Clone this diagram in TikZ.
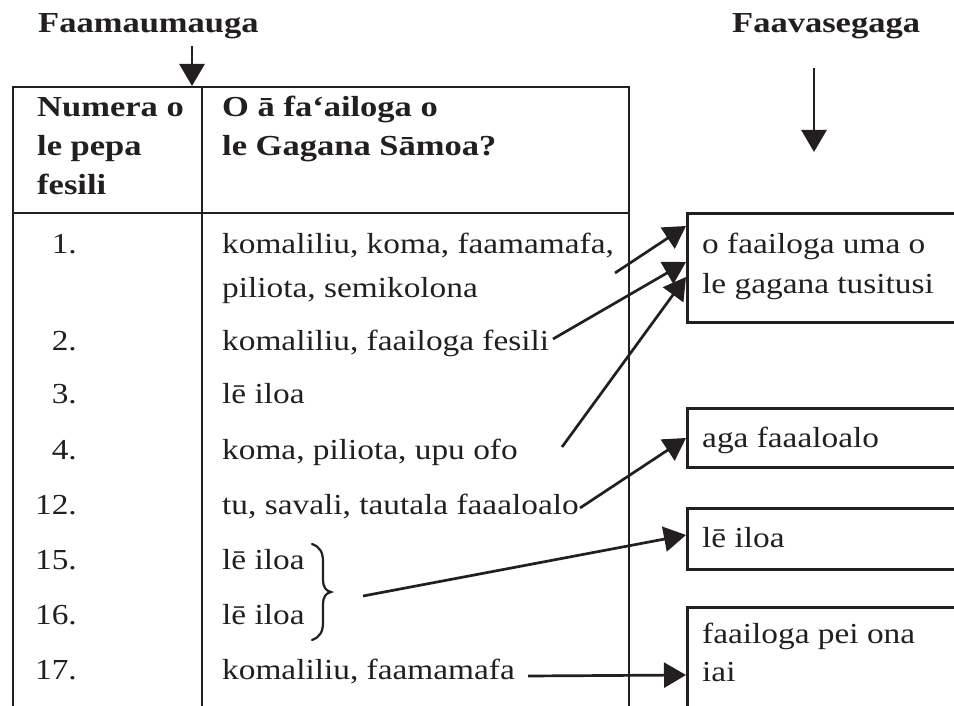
\documentclass[tikz,border=0pt]{standalone}
\usepackage{fontspec}
\setmainfont{Liberation Serif}[FakeStretch=1.15, BoldFeatures={FakeStretch=1.19}]
\usetikzlibrary{arrows.meta,calc}
\definecolor{ink}{HTML}{231F20}
\begin{document}
\begin{tikzpicture}[x=1pt,y=-1pt,
  txt/.style={font=\fontsize{29}{39}\selectfont, inner sep=0pt, text=ink},
  hd/.style={txt, font=\fontsize{29}{39}\selectfont\bfseries},
  rule/.style={line width=2.6pt, draw=ink},
  conn/.style={line width=2.7pt, draw=ink, -{Triangle[length=22pt,width=25pt]}},
  box/.style={draw=ink, line width=2.8pt, anchor=north west, inner sep=0pt, minimum width=272pt}
]
\useasboundingbox[fill=white] (0,0) rectangle (954,706);

% table
\draw[rule] (13,706) -- (13,87) -- (629,87) -- (629,706);
\draw[rule] (202,87) -- (202,706);
\draw[rule] (13,213) -- (629,213);

% titles
\node[hd, anchor=base west] (t1) at (38,33) {Faamaumauga};
\node[hd, anchor=base west] (t2) at (732,33) {Faavasegaga};
\coordinate (t1s) at (192,46);
\coordinate (t1e) at (192,86);
\coordinate (t2s) at (814,68);
\coordinate (t2e) at (814,152);
\draw[conn] (t1s) -- (t1e);
\draw[conn] (t2s) -- (t2e);

% header
\node[hd, anchor=base west] (h1a) at (37,117) {Numera o};
\node[hd, anchor=base west] (h1b) at (37,156) {le pepa};
\node[hd, anchor=base west] (h1c) at (37,195) {fesili};
\node[hd, anchor=base west] (h2a) at (222,117) {O ā fa‘ailoga o};
\node[hd, anchor=base west] (h2b) at (222,156) {le Gagana Sāmoa?};

% rows
\node[txt, anchor=base east] (n1) at (77,253) {1.};
\node[txt, anchor=base east] (n2) at (77,350) {2.};
\node[txt, anchor=base east] (n3) at (77,403) {3.};
\node[txt, anchor=base east] (n4) at (77,459) {4.};
\node[txt, anchor=base east] (n12) at (77,514) {12.};
\node[txt, anchor=base east] (n15) at (77,569) {15.};
\node[txt, anchor=base east] (n16) at (77,624) {16.};
\node[txt, anchor=base east] (n17) at (77,679) {17.};

\node[txt, anchor=base west] (r1a) at (222,253) {komaliliu, koma, faamamafa,};
\node[txt, anchor=base west] (r1b) at (222,297) {piliota, semikolona};
\node[txt, anchor=base west] (r2) at (222,350) {komaliliu, faailoga fesili};
\node[txt, anchor=base west] (r3) at (222,403) {lē iloa};
\node[txt, anchor=base west] (r4) at (222,459) {koma, piliota, upu ofo};
\node[txt, anchor=base west] (r12) at (222,514) {tu, savali, tautala faaaloalo};
\node[txt, anchor=base west] (r15) at (222,569) {lē iloa};
\node[txt, anchor=base west] (r16) at (222,624) {lē iloa};
\node[txt, anchor=base west] (r17) at (222,679) {komaliliu, faamamafa};

% brace
\draw[draw=ink, line width=2.2pt, line cap=round]
  (312,544) .. controls (320,547) and (323,552) .. (323,562) -- (323,580)
  .. controls (323,587) and (326,591) .. (331,592)
  .. controls (326,593) and (323,597) .. (323,604) -- (323,622)
  .. controls (323,632) and (320,637) .. (312,640);

% boxes
\node[box, minimum height=109pt] (b1) at (686,212) {};
\node[box, minimum height=59pt] (b2) at (686,407) {};
\node[box, minimum height=61pt] (b3) at (686,507) {};
\node[box, minimum height=140pt] (b4) at (686,606) {};

\node[txt, anchor=base west] (b1a) at (702,253) {o faailoga uma o};
\node[txt, anchor=base west] (b1b) at (702,293) {le gagana tusitusi};
\node[txt, anchor=base west] (b2a) at (702,447) {aga faaaloalo};
\node[txt, anchor=base west] (b3a) at (702,547) {lē iloa};
\node[txt, anchor=base west] (b4a) at (702,643) {faailoga pei ona};
\node[txt, anchor=base west] (b4b) at (702,681) {iai};

% connectors
\coordinate (s1) at (615,273);
\coordinate (s2) at (553,339);
\coordinate (s4) at (562,447);
\coordinate (s12) at (580,508);
\coordinate (s15) at (363,596);
\coordinate (s17) at (528,676);
\draw[conn] (s1) -- ([yshift=-14pt]b1.north west);
\draw[conn] (s2) -- ([yshift=-50pt]b1.north west);
\draw[conn] (s4) -- ([yshift=-65pt]b1.north west);
\draw[conn] (s12) -- ([yshift=-31pt]b2.north west);
\draw[conn] (s15) -- ([yshift=-28pt]b3.north west);
\draw[conn] (s17) -- ([yshift=-69pt]b4.north west);
\end{tikzpicture}
\end{document}
